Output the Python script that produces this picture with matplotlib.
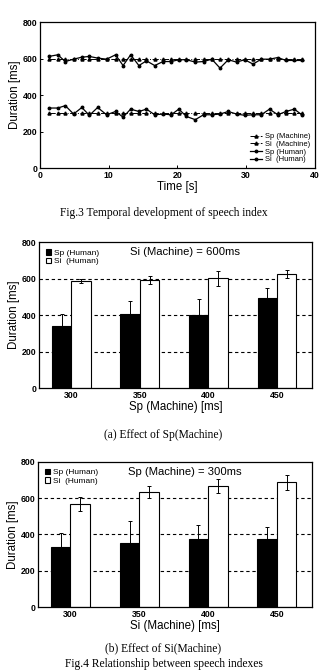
import matplotlib
matplotlib.use("Agg")
import matplotlib.pyplot as plt
import numpy as np

# ---------------- data ----------------
time_s = [1.3, 2.6, 3.7, 4.9, 6.1, 7.2, 8.4, 9.7, 11.0, 12.1, 13.2, 14.4,
          15.5, 16.7, 17.9, 19.1, 20.2, 21.3, 22.6, 23.8, 25.0, 26.2, 27.4, 28.6,
          29.8, 31.0, 32.2, 33.4, 34.6, 35.8, 37.0, 38.1]
si_human_t = [612, 621, 584, 597, 608, 612, 603, 597, 621, 562, 621, 562,
              588, 562, 584, 584, 594, 594, 581, 584, 597, 548, 594, 581,
              594, 570, 597, 597, 606, 590, 590, 590]
sp_human_t = [329, 329, 342, 296, 332, 289, 332, 292, 310, 279, 323, 310,
              323, 292, 296, 292, 323, 283, 265, 292, 292, 296, 310, 296,
              289, 292, 292, 323, 292, 310, 323, 292]
sp_machine_t = [300] * len(time_s)
si_machine_t = [600] * len(time_s)

categories = ["300", "350", "400", "450"]

# Fig.4 (a): Si(Machine) = 600ms
a_sp = [338, 405, 402, 493]
a_sp_err = [69, 70, 86, 55]
a_si = [586, 595, 601, 623]
a_si_err = [12, 22, 40, 22]

# Fig.4 (b): Sp(Machine) = 300ms
b_sp = [333, 352, 374, 374]
b_sp_err = [73, 124, 78, 69]
b_si = [566, 635, 668, 687]
b_si_err = [39, 33, 40, 40]

# ---------------- figure ----------------
plt.rcParams['font.family'] = ['Liberation Sans', 'DejaVu Sans']
fig = plt.figure(figsize=(3.27, 6.72), dpi=100)
fig.patch.set_facecolor('white')

serif = ['Liberation Serif', 'DejaVu Serif']
tick_fs = 6.3
label_fs = 8.3
cap_fs = 8.3

def style_axes(ax):
    for s in ax.spines.values():
        s.set_linewidth(0.9)
    ax.tick_params(direction='in', labelsize=tick_fs, width=0.7, length=2.5, pad=2)
    for lab in ax.get_xticklabels() + ax.get_yticklabels():
        lab.set_fontweight('bold')

# ---- Fig.3 line chart ----
ax1 = fig.add_axes([0.122, 0.75, 0.841, 0.217])
ax1.plot(time_s, sp_machine_t, color='black', lw=0.7, ls='-.', marker='^', ms=2.2,
         label='Sp (Machine)')
ax1.plot(time_s, si_machine_t, color='black', lw=0.7, ls='-.', marker='^', ms=2.2,
         label='Si  (Machine)')
ax1.plot(time_s, sp_human_t, color='black', lw=0.9, ls='-', marker='o', ms=1.8,
         label='Sp (Human)')
ax1.plot(time_s, si_human_t, color='black', lw=0.9, ls='-', marker='o', ms=1.8,
         label='Si  (Human)')
ax1.set_xlim(0, 40)
ax1.set_ylim(0, 800)
ax1.set_xticks([0, 10, 20, 30, 40])
ax1.set_yticks([0, 200, 400, 600, 800])
ax1.set_xlabel('Time [s]', fontsize=label_fs, labelpad=1)
ax1.set_ylabel('Duration [ms]', fontsize=label_fs, labelpad=1)
style_axes(ax1)
ax1.legend(loc='lower right', fontsize=5.5, frameon=False, handlelength=1.6,
           labelspacing=0.05, borderaxespad=0.2, handletextpad=0.4)

fig.text(0.5, 1 - 213 / 672, 'Fig.3 Temporal development of speech index',
         ha='center', va='center', fontsize=cap_fs, family=serif)

# ---- bar charts ----
def bar_chart(rect, sp, sp_err, si, si_err, note, xlabel):
    ax = fig.add_axes(rect)
    x = np.arange(len(categories))
    w = 0.283
    for yv in [200, 400, 600]:
        ax.axhline(yv, color='black', lw=0.8, ls=(0, (3, 2.5)), zorder=0)
    ax.bar(x - w / 2, sp, w, color='black', edgecolor='black', lw=0.8,
           label='Sp (Human)', zorder=2)
    ax.bar(x + w / 2, si, w, color='white', edgecolor='black', lw=0.8,
           label='Si  (Human)', zorder=2)
    ax.errorbar(x - w / 2, sp, yerr=sp_err, fmt='none', ecolor='black',
                elinewidth=0.7, capsize=1.5, capthick=0.7, zorder=3)
    ax.errorbar(x + w / 2, si, yerr=si_err, fmt='none', ecolor='black',
                elinewidth=0.7, capsize=1.5, capthick=0.7, zorder=3)
    ax.set_xlim(-0.473, 3.51)
    ax.set_ylim(0, 800)
    ax.set_xticks(x)
    ax.set_xticklabels(categories)
    ax.set_yticks([0, 200, 400, 600, 800])
    ax.set_xlabel(xlabel, fontsize=label_fs, labelpad=1)
    ax.set_ylabel('Duration [ms]', fontsize=label_fs, labelpad=1)
    style_axes(ax)
    ax.tick_params(axis='x', length=0)
    ax.legend(loc='upper left', fontsize=6, frameon=False, handlelength=0.7,
              handleheight=0.7, labelspacing=0.1, borderaxespad=0.4,
              handletextpad=0.3)
    ax.text(0.535, 0.93, note, transform=ax.transAxes, ha='center', va='center',
            fontsize=8.1)
    return ax

bar_chart([0.119, 0.4226, 0.835, 0.217], a_sp, a_sp_err, a_si, a_si_err,
          'Si (Machine) = 600ms', 'Sp (Machine) [ms]')
fig.text(0.5, 1 - 435 / 672, '(a) Effect of Sp(Machine)',
         ha='center', va='center', fontsize=cap_fs, family=serif)

bar_chart([0.116, 0.0967, 0.838, 0.216], b_sp, b_sp_err, b_si, b_si_err,
          'Sp (Machine) = 300ms', 'Si (Machine) [ms]')
fig.text(0.5, 1 - 648 / 672, '(b) Effect of Si(Machine)',
         ha='center', va='center', fontsize=cap_fs, family=serif)
fig.text(0.5, 1 - 664 / 672, 'Fig.4 Relationship between speech indexes',
         ha='center', va='center', fontsize=cap_fs, family=serif)

fig.savefig('out.png', dpi=100)
